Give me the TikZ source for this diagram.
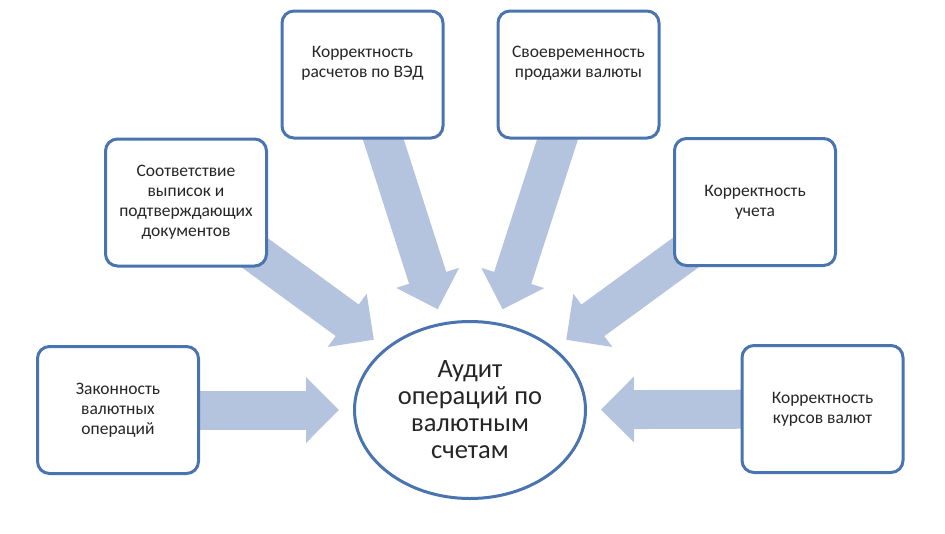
\documentclass[tikz,border=0pt]{standalone}
\usepackage{fontspec}
\setmainfont{Carlito}
\usetikzlibrary{arrows.meta,shapes.geometric,backgrounds}
\definecolor{boxblue}{RGB}{74,116,176}
\definecolor{arrowblue}{RGB}{180,196,222}
\tikzset{
  factor/.style={draw=boxblue, line width=3pt, rounded corners=12pt, fill=white,
    minimum width=161pt, minimum height=127pt, align=center, text=black!85,
    font=\fontsize{17.5}{20}\selectfont},
  goal/.style={ellipse, draw=boxblue, line width=3pt, fill=white, inner sep=0pt,
    minimum width=231pt, minimum height=177pt, align=center, text=black!85,
    font=\fontsize{26.5}{27}\selectfont},
  bigarrow/.style={arrowblue, line width=39pt,
    -{Triangle[length=33pt,width=64pt]}, shorten >=14pt}
}

\begin{document}
\begin{tikzpicture}[x=1pt,y=-1pt]
  \useasboundingbox (0,0) rectangle (945,533);

  % centre
  \node[goal] (audit) at (470,410) {Аудит\\операций по\\валютным\\счетам};

  % factors round it
  \node[factor] (zakon)    at (118,410)    {Законность\\валютных\\операций};
  \node[factor] (sootv)    at (186,202.5)  {Соответствие\\выписок и\\подтверждающих\\документов};
  \node[factor] (raschet)  at (362.5,74.5) {Корректность\\расчетов по ВЭД\\[6pt]};
  \node[factor] (prodazha) at (578.5,74.5) {Своевременность\\продажи валюты\\[6pt]};
  \node[factor] (uchet)    at (755,202)    {Корректность\\учета};
  \node[factor] (kurs)     at (822.5,409)  {Корректность\\курсов валют};

  % block arrows behind the boxes
  \begin{scope}[on background layer]
    \foreach \f in {zakon,sootv,raschet,prodazha,uchet,kurs}
      \draw[bigarrow] (\f.center) -- (audit);
  \end{scope}
\end{tikzpicture}
\end{document}
